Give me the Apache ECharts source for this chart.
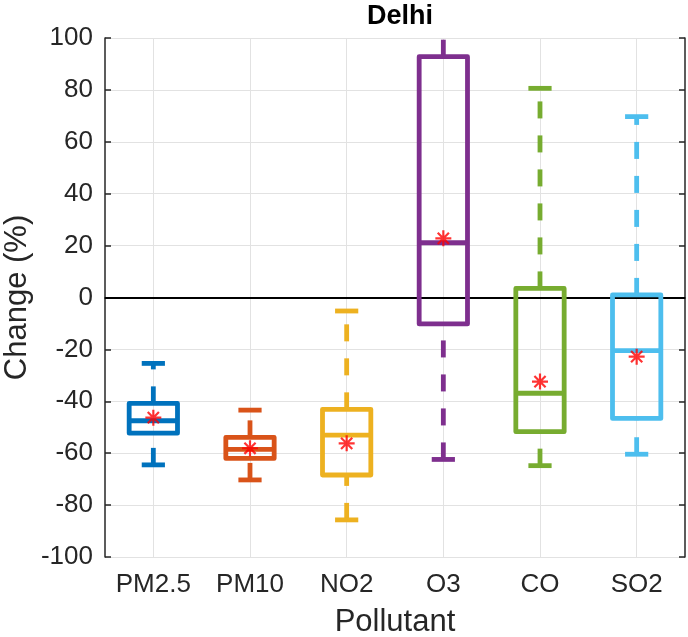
<!DOCTYPE html>
<html>
<head>
<meta charset="utf-8">
<script src="https://cdn.jsdelivr.net/npm/echarts@6/dist/echarts.min.js"></script>
<style>html,body{margin:0;padding:0;background:#fff}#c{width:688px;height:637px}</style>
</head>
<body>
<div id="c"></div>
<script>
// ---- data ----
const categories = ['PM2.5', 'PM10', 'NO2', 'O3', 'CO', 'SO2'];
const lowerWhisker = [-64.5, -70.3, -85.7, -62.4, -64.8, -60.4];
const q1Values     = [-52.3, -62.0, -68.4, -10.2, -51.7, -46.6];
const medianValues = [-47.5, -58.5, -53.0, 21.1, -36.9, -20.5];
const q3Values     = [-40.8, -53.9, -43.1, 92.8, 3.5, 1.0];
const upperWhisker = [-25.4, -43.4, -5.2, 108, 80.6, 69.7];
const meanValues   = [-46.3, -58.1, -56.2, 22.8, -32.4, -22.8];
const yTicks = { min: -100, max: 100, interval: 20 };
const colors = ['#0072BD', '#D95319', '#EDB120', '#7E2F8E', '#77AC30', '#4DBEEE'];

const boxData = categories.map((c, i) => [i, lowerWhisker[i], q1Values[i], medianValues[i], q3Values[i], upperWhisker[i]]);
const meanData = categories.map((c, i) => [i, meanValues[i]]);

const font = '"Liberation Sans", Arial, Helvetica, sans-serif';
const axisColor = '#262626';

function renderBox(params, api) {
  const i = api.value(0);
  const lo = api.coord([i, api.value(1)]);
  const q1 = api.coord([i, api.value(2)]);
  const md = api.coord([i, api.value(3)]);
  const q3 = api.coord([i, api.value(4)]);
  const hi = api.coord([i, api.value(5)]);
  const band = api.size([1, 0])[0];
  const bw = band * 0.5;
  const cw = band * 0.24;
  const x = lo[0];
  const col = colors[i];
  const lw = 4.8;
  const solid = { stroke: col, lineWidth: lw, fill: null, lineCap: 'butt' };
  const dashed = { stroke: col, lineWidth: lw, fill: null, lineDash: [17, 17] };
  return {
    type: 'group',
    children: [
      { type: 'line', shape: { x1: x, y1: lo[1], x2: x, y2: q1[1] }, style: dashed },
      { type: 'line', shape: { x1: x, y1: q3[1], x2: x, y2: hi[1] }, style: dashed },
      { type: 'line', shape: { x1: x - cw / 2, y1: lo[1], x2: x + cw / 2, y2: lo[1] }, style: solid },
      { type: 'line', shape: { x1: x - cw / 2, y1: hi[1], x2: x + cw / 2, y2: hi[1] }, style: solid },
      { type: 'rect', shape: { x: x - bw / 2, y: q3[1], width: bw, height: q1[1] - q3[1] }, style: { stroke: col, lineWidth: lw, fill: null, lineJoin: 'round' } },
      { type: 'line', shape: { x1: x - bw / 2, y1: md[1], x2: x + bw / 2, y2: md[1] }, style: solid }
    ]
  };
}

const star = 'path://M0,-10L0,10M-10,0L10,0M-7,-7L7,7M-7,7L7,-7';

const chart = echarts.init(document.getElementById('c'), null, { renderer: 'canvas' });
chart.setOption({
  animation: false,
  backgroundColor: '#ffffff',
  title: {
    text: 'Delhi', left: 395, top: -2, textAlign: 'center',
    textStyle: { fontFamily: font, fontSize: 27, fontWeight: 'bold', color: '#000' }
  },
  grid: { left: 105, right: 3, top: 38, bottom: 80, containLabel: false, outerBoundsMode: 'none' },
  xAxis: [{
    type: 'category', data: categories, position: 'bottom',
    name: 'Pollutant', nameLocation: 'middle', nameGap: 50, nameMoveOverlap: false,
    nameTextStyle: { fontFamily: font, fontSize: 31, color: axisColor },
    axisLine: { lineStyle: { color: axisColor, width: 1.5 } },
    axisTick: { alignWithLabel: true, inside: true, length: 6, lineStyle: { color: axisColor, width: 1.5 } },
    axisLabel: { interval: 0, fontFamily: font, fontSize: 26, color: axisColor, margin: 15 },
    splitLine: { show: true, alignWithLabel: true, lineStyle: { color: '#e2e2e2', width: 1 } }
  }, {
    type: 'category', data: categories, position: 'top',
    axisLine: { lineStyle: { color: axisColor, width: 1.5 } },
    axisTick: { alignWithLabel: true, inside: true, length: 6, lineStyle: { color: axisColor, width: 1.5 } },
    axisLabel: { show: false }, splitLine: { show: false }
  }],
  yAxis: [{
    type: 'value', min: yTicks.min, max: yTicks.max, interval: yTicks.interval, position: 'left',
    name: 'Change (%)', nameLocation: 'middle', nameGap: 72, nameMoveOverlap: false,
    nameTextStyle: { fontFamily: font, fontSize: 31, color: axisColor },
    axisLine: { show: true, lineStyle: { color: axisColor, width: 1.5 } },
    axisTick: { show: true, inside: true, length: 6, lineStyle: { color: axisColor, width: 1.5 } },
    axisLabel: { fontFamily: font, fontSize: 26, color: axisColor, margin: 12 },
    splitLine: { show: true, lineStyle: { color: '#e2e2e2', width: 1 } }
  }, {
    type: 'value', min: yTicks.min, max: yTicks.max, interval: yTicks.interval, position: 'right',
    axisLine: { show: true, lineStyle: { color: axisColor, width: 1.5 } },
    axisTick: { show: true, inside: true, length: 6, lineStyle: { color: axisColor, width: 1.5 } },
    axisLabel: { show: false }, splitLine: { show: false }
  }],
  series: [{
    type: 'custom', name: 'box', data: boxData, renderItem: renderBox, clip: true,
    encode: { x: 0, y: [1, 2, 3, 4, 5] }, z: 3,
    markLine: {
      silent: true, symbol: 'none', label: { show: false },
      lineStyle: { color: '#000', width: 2, type: 'solid' },
      data: [{ yAxis: 0 }], z: 2
    }
  }, {
    type: 'scatter', name: 'mean', data: meanData, symbol: star, symbolSize: 16,
    itemStyle: { color: 'none', borderColor: '#ff0000', borderWidth: 2.2 }, z: 5
  }]
});
</script>
</body>
</html>
